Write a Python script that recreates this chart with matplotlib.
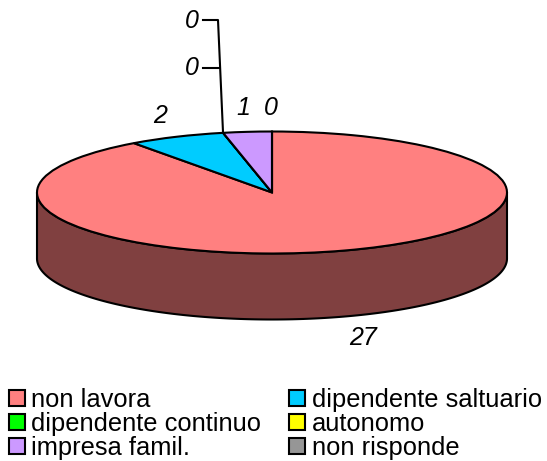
import numpy as np
import matplotlib.pyplot as plt
from matplotlib.patches import Polygon

plt.rcParams['font.family'] = ['Liberation Sans', 'DejaVu Sans']

categorie = ["non lavora", "dipendente saltuario", "dipendente continuo",
             "autonomo", "impresa famil.", "non risponde"]
valori = [27, 2, 0, 0, 1, 0]
colori = ["#FF8080", "#00CCFF", "#00FF00", "#FFFF00", "#CC99FF", "#969696"]
etichette = ["27", "2", "0", "0", "1", "0"]

W, H = 547, 461
cx, cy, rx, ry = 272, 192.5, 235, 61
prof = 66 / ry
lw = 1.5


def px(x, y):
    # pixel dell'immagine -> coordinate dati della torta
    return (x - cx) / rx, (cy - y) / ry


fig = plt.figure(figsize=(W / 100, H / 100), dpi=100)
ax = fig.add_axes([0, 0, 1, 1])

# parete laterale
t = np.linspace(np.pi, 2 * np.pi, 200)
xs = np.cos(t)
ys = np.sin(t)
parete = np.column_stack([np.r_[xs, xs[::-1]], np.r_[ys, ys[::-1] - prof]])
ax.add_patch(Polygon(parete, closed=True, fc="#804040", ec="black", lw=lw, zorder=1))

wedges, _ = ax.pie(valori, colors=colori, startangle=90, counterclock=False,
                   wedgeprops={"edgecolor": "black", "linewidth": lw, "zorder": 2})

ax.set_aspect("auto")
ax.set_xlim(*sorted([px(0, 0)[0], px(W, 0)[0]]))
ax.set_ylim(px(0, H)[1], px(0, 0)[1])
ax.axis("off")

# linee guida delle etichette a zero
ax.plot(*zip(px(223, 132), px(218, 20), px(203, 20)), color="black", lw=lw, zorder=3)
ax.plot(*zip(px(219, 68), px(203, 68)), color="black", lw=lw, zorder=3)

pos = [(363, 338), (160, 116), (192, 68), (192, 21), (243, 108), (271, 108)]
for lab, (x, y) in zip(etichette, pos):
    ax.text(*px(x, y), lab, style="italic", fontsize=18, ha="center", va="center")

ordine = [0, 2, 4, 1, 3, 5]
leg = ax.legend([wedges[i] for i in ordine], [categorie[i] for i in ordine],
                ncol=2, loc="lower left", bbox_to_anchor=(9 / W, 1 / H),
                frameon=False, fontsize=18.4, handlelength=0.62, handleheight=0.58,
                handletextpad=0.25, labelspacing=0.0, columnspacing=1.1,
                borderpad=0, borderaxespad=0)

plt.savefig("out.png", dpi=100)
